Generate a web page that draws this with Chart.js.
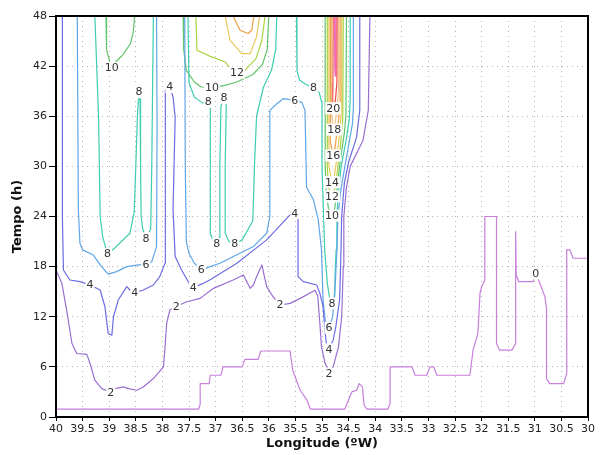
<!DOCTYPE html>
<html><head><meta charset="utf-8">
<script src="https://cdn.jsdelivr.net/npm/chart.js@4/dist/chart.umd.min.js"></script>
<style>html,body{margin:0;padding:0;background:#fff}canvas{display:block}</style>
</head><body>
<canvas id="c" width="606" height="455"></canvas>
<script>
// ---- axis ticks ----
const xTickValues = [40,39.5,39,38.5,38,37.5,37,36.5,36,35.5,35,34.5,34,33.5,33,32.5,32,31.5,31,30.5,30];
const yTickValues = [0,6,12,18,24,30,36,42,48];

// ---- contour lines: [longitude (ºW), tempo (h)] ----
const c0 = [[40,0.95],[37.32,0.95],[37.29,1.5],[37.29,4.0],[37.12,4.0],[37.1,5.0],[36.9,5.0],[36.86,6.0],[36.5,6.0],[36.45,6.9],[36.2,6.9],[36.15,7.9],[35.6,7.9],[35.55,5.6],[35.41,3.2],[35.28,2.0],[35.22,0.95],[34.57,0.95],[34.44,3.0],[34.35,3.2],[34.3,4.0],[34.24,3.6],[34.21,1.5],[34.16,0.95],[33.76,0.95],[33.72,1.6],[33.72,6.0],[33.31,6.0],[33.25,5.0],[33.03,5.0],[32.97,6.0],[32.9,6.0],[32.84,5.0],[32.22,5.0],[32.16,8.0],[32.07,10.0],[32.03,14.8],[32.0,15.6],[31.94,16.4],[31.94,24.0],[31.72,24.0],[31.72,8.8],[31.66,8.0],[31.43,8.0],[31.36,8.8],[31.36,22.2],[31.35,17.0],[31.3,16.2],[31.03,16.2],[30.98,17.2],[30.94,16.6],[30.81,14.4],[30.78,13.0],[30.78,4.6],[30.72,4.0],[30.46,4.0],[30.4,5.2],[30.4,20.0],[30.34,20.0],[30.28,19.0],[30.0,19.0]];
const c2 = [[40,17.6],[39.89,16.0],[39.8,12.8],[39.7,8.8],[39.61,7.6],[39.42,7.5],[39.36,6.4],[39.27,4.4],[39.14,3.4],[38.97,2.96],[38.89,3.4],[38.73,3.6],[38.64,3.4],[38.48,3.2],[38.36,3.6],[38.17,4.6],[37.98,6.0],[37.95,8.4],[37.92,11.2],[37.86,12.8],[37.74,13.25],[37.54,13.8],[37.29,14.2],[37.04,15.4],[36.67,16.4],[36.48,17.0],[36.35,15.4],[36.29,15.8],[36.23,16.8],[36.13,18.2],[36.09,17.0],[36.04,15.6],[35.92,14.4],[35.79,13.4],[35.6,13.6],[35.41,14.2],[35.13,15.17],[35.08,14.5],[35.04,11.2],[35.01,8.4],[34.94,6.4],[34.88,5.6],[34.87,5.2],[34.79,6.0],[34.69,8.4],[34.63,12.0],[34.6,18],[34.59,24],[34.54,27.5],[34.47,30],[34.23,33.1],[34.13,36.7],[34.1,48]];
const c4 = [[39.88,48],[39.88,24],[39.86,17.6],[39.74,16.4],[39.55,16.2],[39.36,15.8],[39.17,15.2],[39.08,13.2],[39.02,10.0],[38.95,9.8],[38.92,12.0],[38.83,14.0],[38.67,15.6],[38.61,15.2],[38.52,14.85],[38.36,15.2],[38.17,15.8],[38.05,16.8],[37.95,18.4],[37.94,24.8],[37.95,39.1],[37.86,39.5],[37.8,38.3],[37.76,35.9],[37.8,24.8],[37.76,19.2],[37.64,17.6],[37.48,15.8],[37.42,15.5],[37.23,16.0],[37.11,16.4],[36.6,18.4],[36.04,21.2],[35.6,24.2],[35.51,24.4],[35.45,23.6],[35.45,16.8],[35.35,16.2],[35.1,15.8],[35.04,14.8],[34.98,13.2],[34.94,10.0],[34.91,8.4],[34.87,8.1],[34.79,9.2],[34.74,10.8],[34.67,14.0],[34.65,18],[34.63,24],[34.58,28],[34.5,30.5],[34.35,33.5],[34.29,36.7],[34.29,48]];
const c6West = [[39.6,48],[39.58,24.8],[39.55,20.8],[39.5,20],[39.3,19.4],[39.17,18.2],[39.02,17.1],[38.86,17.4],[38.67,18.0],[38.45,18.2],[38.31,18.25],[38.2,18.6],[38.11,20.4],[38.1,35],[38.11,48]];
const c6East = [[37.58,48],[37.57,30],[37.55,21],[37.5,19.6],[37.4,18.4],[37.27,17.6],[37.1,18.0],[36.92,18.4],[36.29,20.4],[36.04,22],[35.98,24],[35.98,36.7],[35.85,37.5],[35.73,38.1],[35.51,37.9],[35.38,37.7],[35.32,36.7],[35.29,27.5],[35.16,26],[35.07,23.6],[35.01,20],[34.98,14],[34.94,11.6],[34.87,10.7],[34.80,12],[34.75,16],[34.72,20],[34.70,24],[34.65,27],[34.57,30],[34.5,32.5],[34.43,35],[34.41,37],[34.41,48]];
const c8West = [[39.27,48],[39.2,36],[39.17,24],[39.12,21.5],[39.03,19.5],[38.9,20.2],[38.61,22],[38.53,24.5],[38.5,30],[38.47,36],[38.45,38.0],[38.44,38.9],[38.42,38],[38.41,30],[38.4,24],[38.37,22.5],[38.31,21.4],[38.22,22.5],[38.2,30],[38.17,48]];
const c8Mid = [[37.52,48],[37.5,40],[37.4,38.3],[37.25,37.6],[37.14,37.7],[37.1,37.0],[37.1,30],[37.1,22],[37.04,21.0],[36.98,20.7],[36.93,21.5],[36.92,30],[36.9,37.2],[36.84,38.2],[36.8,37.2],[36.82,30],[36.82,22],[36.75,21.0],[36.64,20.7],[36.5,21.2],[36.3,23.5],[36.27,30],[36.23,36],[36.1,39.5],[35.95,41.5],[35.87,44],[35.85,48]];
const c8Jet = [[35.48,48],[35.47,41.5],[35.42,40.3],[35.3,39.8],[35.16,39.4],[35.05,38.8],[35.0,37.5],[35.0,30],[34.97,24],[34.95,20],[34.9,16],[34.86,14.3],[34.81,13.6],[34.76,14.5],[34.755,17],[34.735,20],[34.72,24],[34.69,27],[34.64,30],[34.55,33],[34.49,35.5],[34.47,38],[34.47,48]];
const c10West = [[39.06,48],[39.05,44],[38.98,42.3],[38.95,41.8],[38.88,42.5],[38.75,43.3],[38.6,44.7],[38.55,46],[38.52,48]];
const c10Mid = [[37.61,48],[37.6,44],[37.55,41.5],[37.4,40.1],[37.27,39.5],[37.07,39.4],[36.83,39.7],[36.6,40.1],[36.3,41.0],[36.12,42.2],[36.03,44],[36.0,48]];
const c10Jet = [[34.94,48],[34.94,30],[34.92,27],[34.88,25],[34.81,24.1],[34.76,25],[34.73,26.5],[34.67,30],[34.58,34],[34.55,36],[34.54,48]];
const c12Top = [[37.37,48],[37.35,43.9],[37.11,43.2],[36.82,42.5],[36.69,41.5],[36.6,41.2],[36.45,41.5],[36.24,42.9],[36.13,45.1],[36.07,48]];
const c12Jet = [[34.90,48],[34.90,30],[34.88,27.5],[34.81,26.4],[34.76,27.3],[34.72,29],[34.66,32],[34.61,35.5],[34.6,48]];
const c14Top = [[36.82,48],[36.73,45.1],[36.51,43.5],[36.35,43.5],[36.23,45.5],[36.17,48]];
const c14Jet = [[34.87,48],[34.87,30],[34.81,28.1],[34.77,28.8],[34.73,30.5],[34.67,34],[34.63,37],[34.63,48]];
const c16Top = [[36.67,48],[36.54,46.3],[36.39,45.9],[36.32,46.3],[36.28,48]];
const c16Jet = [[34.84,48],[34.845,33],[34.79,31.3],[34.76,32],[34.73,33.5],[34.68,36],[34.66,38],[34.66,48]];
const c18Jet = [[34.815,48],[34.82,36],[34.77,34.4],[34.75,35.2],[34.72,37],[34.69,39],[34.69,48]];
const c20Jet = [[34.79,48],[34.795,40],[34.80,38.2],[34.79,36.96],[34.75,37.8],[34.72,40],[34.715,48]];
const c22Jet = [[34.765,48],[34.76,41.5],[34.75,40.8],[34.74,41.5],[34.735,48]];

// ---- contour labels: [longitude, tempo, text] ----
const contourLabels = [
  [30.98,17.2,'0'],
  [38.97,2.96,'2'],[37.74,13.25,'2'],[35.79,13.4,'2'],[34.87,5.2,'2'],
  [39.36,15.8,'4'],[38.52,14.85,'4'],[37.86,39.5,'4'],[37.42,15.5,'4'],[35.51,24.4,'4'],[34.87,8.1,'4'],
  [38.31,18.25,'6'],[37.27,17.6,'6'],[35.51,37.9,'6'],[34.87,10.7,'6'],
  [39.03,19.5,'8'],[38.44,38.9,'8'],[38.31,21.4,'8'],[37.14,37.7,'8'],[36.84,38.2,'8'],[36.98,20.7,'8'],[36.64,20.7,'8'],[35.16,39.4,'8'],[34.81,13.6,'8'],
  [38.95,41.8,'10'],[37.07,39.4,'10'],[34.81,24.1,'10'],
  [36.6,41.2,'12'],[34.81,26.4,'12'],
  [34.81,28.1,'14'],[34.79,31.3,'16'],[34.77,34.4,'18'],[34.79,36.96,'20']
];

const levelColors = {0:'#c77fdb',2:'#9a6ed2',4:'#6c6ce2',6:'#5fa6e6',8:'#3fcdb0',10:'#62c46a',12:'#a9d342',14:'#e9c85a',16:'#ee9f48',18:'#f2bf85',20:'#ee4b4b',22:'#f06cb4'};
const lines = [
  [0,c0],[2,c2],[4,c4],[6,c6West],[6,c6East],[8,c8West],[8,c8Mid],[8,c8Jet],
  [10,c10West],[10,c10Mid],[10,c10Jet],[12,c12Top],[12,c12Jet],[14,c14Top],[14,c14Jet],
  [16,c16Top],[16,c16Jet],[18,c18Jet],[20,c20Jet],[22,c22Jet]
];

const datasets = lines.map(([lev,pts]) => ({
  label: String(lev),
  data: pts.map(([x,y]) => ({x,y})),
  showLine: true, pointRadius: 0, borderWidth: 1.2, tension: 0,
  borderColor: levelColors[lev], backgroundColor: levelColors[lev], fill: false
}));

const decor = {
  id: 'decor',
  afterDatasetsDraw(chart) {
    const {ctx, scales:{x,y}} = chart;
    ctx.save();
    ctx.font = '11px "DejaVu Sans"';
    ctx.textAlign = 'center'; ctx.textBaseline = 'middle';
    for (const [lon,t,txt] of contourLabels) {
      const px = x.getPixelForValue(lon), py = y.getPixelForValue(t);
      const w = ctx.measureText(txt).width;
      ctx.fillStyle = '#fff';
      ctx.fillRect(px - w/2 - 1, py - 6, w + 2, 12);
      ctx.fillStyle = '#333';
      ctx.fillText(txt, px, py + 0.5);
    }
    ctx.restore();
  },
  afterDraw(chart) {
    const {ctx, chartArea:a} = chart;
    ctx.save();
    ctx.strokeStyle = '#000'; ctx.lineWidth = 2;
    ctx.strokeRect(a.left, a.top, a.right - a.left, a.bottom - a.top);
    ctx.restore();
  }
};

new Chart(document.getElementById('c'), {
  type: 'scatter',
  data: { datasets },
  plugins: [decor],
  options: {
    responsive: false, animation: false, devicePixelRatio: 1,
    layout: { padding: { left: 0, right: 18, top: 16, bottom: 0 } },
    plugins: { legend: { display: false }, tooltip: { enabled: false } },
    elements: { line: { borderJoinStyle: 'round' } },
    scales: {
      x: {
        type: 'linear', min: 30, max: 40, reverse: true,
        afterFit(s) { s.height = 38; },
        afterBuildTicks(s) { s.ticks = xTickValues.map(v => ({value: v})); },
        ticks: { autoSkip: false, maxRotation: 0, padding: 2, color: '#222',
                 font: { family: 'DejaVu Sans', size: 11 },
                 callback: v => String(v) },
        grid: { color: 'rgba(170,170,170,0.85)', lineWidth: 1, tickLength: 4, tickColor: '#000' },
        border: { dash: [1, 4], color: '#000', width: 2 },
        title: { display: true, text: 'Longitude (ºW)', color: '#111',
                 font: { family: 'DejaVu Sans', size: 13, weight: 'bold' },
                 padding: { top: 0, bottom: 4 } }
      },
      y: {
        type: 'linear', min: 0, max: 48,
        afterFit(s) { s.width = 56; },
        afterBuildTicks(s) { s.ticks = yTickValues.map(v => ({value: v})); },
        ticks: { padding: 2, color: '#222', font: { family: 'DejaVu Sans', size: 11 } },
        grid: { color: 'rgba(170,170,170,0.85)', lineWidth: 1, tickLength: 7, tickColor: '#000' },
        border: { dash: [1, 4], color: '#000', width: 2 },
        title: { display: true, text: 'Tempo (h)', color: '#111',
                 font: { family: 'DejaVu Sans', size: 13, weight: 'bold' },
                 padding: { top: 10, bottom: 0 } }
      }
    }
  }
});
</script>
</body></html>
